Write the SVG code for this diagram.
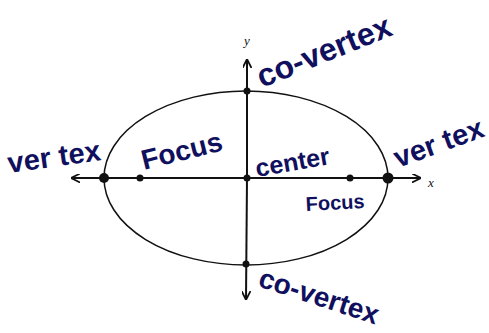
<svg xmlns="http://www.w3.org/2000/svg" width="489" height="333" viewBox="0 0 489 333">
<style>
.ax{stroke:#111;stroke-width:2;fill:none}
.el{stroke:#111;stroke-width:1.5;fill:none}
.dot{fill:#111}
.hw{font-family:"Liberation Sans",Arial,sans-serif;fill:#10105e;font-weight:bold}
.it{font-family:"Liberation Serif",serif;font-style:italic;fill:#111;font-size:13px}
</style>
<defs>
<marker id="ah" viewBox="0 0 10 10" refX="9" refY="5" markerWidth="9" markerHeight="9" markerUnits="userSpaceOnUse" orient="auto"><path d="M0,0 L10,5 L0,10" fill="none" stroke="#111" stroke-width="2"/></marker>
</defs>
<rect width="489" height="333" fill="#fff"/>
<g id="connectors">
<line class="ax" x1="248" y1="178" x2="72" y2="178" marker-end="url(#ah)"/>
<line class="ax" x1="248" y1="178" x2="420" y2="178" marker-end="url(#ah)"/>
<line class="ax" x1="247" y1="178" x2="247" y2="60" marker-end="url(#ah)"/>
<line class="ax" x1="247" y1="178" x2="246" y2="299" marker-end="url(#ah)"/>
</g>
<g id="ellipse"><ellipse class="el" cx="246" cy="178" rx="142" ry="87"/></g>
<g id="axis-labels">
<text class="it" x="428" y="187">x</text>
<text class="it" x="244" y="45">y</text>
</g>
<g id="vertex-left"><circle class="dot" cx="104" cy="178" r="5"/><text class="hw" font-size="29" transform="translate(9,173) rotate(-8)">ver tex</text></g>
<g id="focus-left"><circle class="dot" cx="140" cy="178" r="3.5"/><text class="hw" font-size="28" transform="translate(144,170) rotate(-14)">Focus</text></g>
<g id="center"><circle class="dot" cx="247" cy="178" r="3.5"/><text class="hw" font-size="25" transform="translate(257,177) rotate(-10)">center</text></g>
<g id="focus-right"><circle class="dot" cx="350" cy="178" r="3.5"/><text class="hw" font-size="20" transform="translate(306,211) rotate(-3)">Focus</text></g>
<g id="vertex-right"><circle class="dot" cx="388" cy="178" r="5.5"/><text class="hw" font-size="29" transform="translate(398,168) rotate(-20)">ver tex</text></g>
<g id="covertex-top"><circle class="dot" cx="247" cy="91" r="3.5"/><text class="hw" font-size="32" transform="translate(262,88) rotate(-22)">co-vertex</text></g>
<g id="covertex-bottom"><circle class="dot" cx="246" cy="264" r="3.5"/><text class="hw" font-size="28" transform="translate(257,286) rotate(18)">co-vertex</text></g>
</svg>
